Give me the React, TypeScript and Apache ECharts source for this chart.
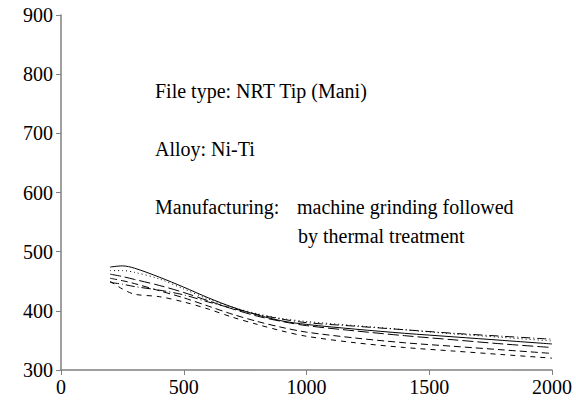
import React, { useEffect, useRef } from "react";
import * as echarts from "echarts";

const xValues = [200, 250, 300, 400, 500, 600, 700, 800, 900, 1000, 1200, 1400, 1600, 1800, 2000];
const solidSeries = [474, 476, 472, 457, 440, 422, 406, 393, 383, 377, 369, 362, 356, 350, 344];
const dottedSeries = [468, 468, 465, 454, 437, 420, 406, 395, 387, 382, 375, 368, 361, 355, 349];
const dashDotSeries = [448, 445, 441, 435, 427, 415, 404, 394, 386, 380, 374, 368, 362, 357, 352];
const longDashSeries = [462, 458, 453, 443, 431, 417, 403, 391, 382, 375, 366, 358, 351, 344, 338];
const dashSeries = [455, 451, 446, 434, 422, 408, 394, 382, 372, 364, 354, 346, 340, 334, 328];
const shortDashSeries = [450, 437, 428, 424, 415, 403, 389, 377, 366, 357, 346, 338, 332, 326, 320];

const yTicks = [300, 400, 500, 600, 700, 800, 900];
const xTicks = [0, 500, 1000, 1500, 2000];

const FONT = "Liberation Serif";

const pair = (ys: number[]) => xValues.map((x, i) => [x, ys[i]]);

export default function App() {
  const ref = useRef<HTMLDivElement>(null);
  useEffect(() => {
    if (!ref.current) return;
    const chart = echarts.init(ref.current, undefined, { renderer: "svg" });
    const lineSeries = (name: string, ys: number[], type: any) => ({
      name,
      type: "line",
      data: pair(ys),
      smooth: 0.3,
      showSymbol: false,
      lineStyle: { color: "#000", width: 1, type },
    });
    const txt = (text: string, left: number, top: number) => ({
      type: "text",
      left,
      top,
      style: { text, fontFamily: FONT, fontSize: 20, fill: "#000" },
    });
    chart.setOption({
      animation: false,
      backgroundColor: "#fff",
      textStyle: { fontFamily: FONT },
      grid: { left: 61, right: 24, top: 15, bottom: 40 },
      xAxis: {
        type: "value",
        min: xTicks[0],
        max: xTicks[xTicks.length - 1],
        interval: 500,
        axisLine: { lineStyle: { color: "#808080", width: 1.5 } },
        axisTick: { show: true, length: 5, lineStyle: { color: "#808080" } },
        axisLabel: { color: "#000", fontFamily: FONT, fontSize: 20, margin: 7, formatter: (v: number) => String(v) },
        splitLine: { show: false },
      },
      yAxis: {
        type: "value",
        min: yTicks[0],
        max: yTicks[yTicks.length - 1],
        interval: 100,
        axisLine: { show: true, lineStyle: { color: "#808080", width: 1.5 } },
        axisTick: { show: true, length: 5, lineStyle: { color: "#808080" } },
        axisLabel: { color: "#000", fontFamily: FONT, fontSize: 20, margin: 8, formatter: (v: number) => String(v) },
        splitLine: { show: false },
      },
      series: [
        lineSeries("solid", solidSeries, "solid"),
        lineSeries("dotted", dottedSeries, [1, 3]),
        lineSeries("dashdot", dashDotSeries, [9, 3, 1, 3]),
        lineSeries("longdash", longDashSeries, [11, 4]),
        lineSeries("dash", dashSeries, [7, 4]),
        lineSeries("shortdash", shortDashSeries, [5, 5]),
      ],
      graphic: [
        txt("File type: NRT Tip (Mani)", 155, 81),
        txt("Alloy: Ni-Ti", 155, 139),
        txt("Manufacturing:", 155, 197),
        txt("machine grinding followed", 297, 197),
        txt("by thermal treatment", 298, 226),
      ],
    });
    return () => chart.dispose();
  }, []);
  return <div ref={ref} style={{ width: 576, height: 410, position: "absolute", left: 0, top: 0 }} />;
}
